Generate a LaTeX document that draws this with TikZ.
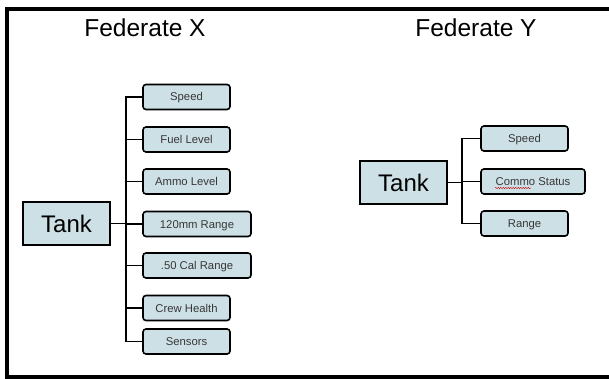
\documentclass[tikz,border=0pt]{standalone}
\usepackage{fontspec}
\setmainfont{Liberation Sans}
\usetikzlibrary{decorations.pathmorphing}
\definecolor{boxblue}{RGB}{205,224,230}
\definecolor{leafgray}{RGB}{55,55,55}
\tikzset{
  tankbox/.style={draw, line width=1.6pt, fill=boxblue, minimum width=87pt, minimum height=43pt, inner sep=0pt, font=\fontsize{24}{24}\selectfont},
  leafbox/.style={draw, line width=1.6pt, fill=boxblue, rounded corners=3pt, minimum width=87pt, minimum height=25pt, inner sep=0pt, text=leafgray, text height=8pt, text depth=0pt, font=\fontsize{11.3}{11.3}\selectfont},
  link/.style={line width=1.9pt},
  title/.style={font=\fontsize{24.5}{24.5}\selectfont}
}
\begin{document}
\begin{tikzpicture}[x=1pt, y=-1pt]
\useasboundingbox (0,0) rectangle (609,379);
\draw[line width=3.6pt] (640,9) -- (7,9) -- (7,377) -- (640,377);
\node[title] (titleX) at (145,28) {Federate X};
\node[title] (titleY) at (476,28) {Federate Y};
\node[tankbox] (xtank) at (66.5,223.5) {Tank};
\node[leafbox] (xspeed) at (186.5,97) {Speed};
\node[leafbox] (xfuel) at (186.5,139.5) {Fuel Level};
\node[leafbox] (xammo) at (186.5,181.5) {Ammo Level};
\node[leafbox, minimum width=108pt] (xmain) at (197,224) {120mm Range};
\node[leafbox, minimum width=108pt] (xcal) at (197,265.5) {.50 Cal Range};
\node[leafbox] (xcrew) at (186.5,308) {Crew Health};
\node[leafbox] (xsens) at (186.5,341.5) {Sensors};
\foreach \leaf in {xspeed,xfuel,xammo,xmain,xcal,xcrew,xsens}
  \draw[link] (\leaf.west) -- ++(-16,0) |- (xtank.east);
\node[tankbox] (ytank) at (403.5,182.5) {Tank};
\node[leafbox] (yspeed) at (524.5,138.5) {Speed};
\node[leafbox, minimum width=104pt] (ycommo) at (533,181.5) {Commo Status};
\node[leafbox] (yrange) at (524.5,223.5) {Range};
\foreach \leaf in {yspeed,ycommo,yrange}
  \draw[link] (\leaf.west) -- ++(-18,0) |- (ytank.east);
\draw[red!80!black, line width=0.4pt, decorate, decoration={snake, amplitude=0.7pt, segment length=2.5pt}] (495,188) -- (531,188);
\end{tikzpicture}
\end{document}
